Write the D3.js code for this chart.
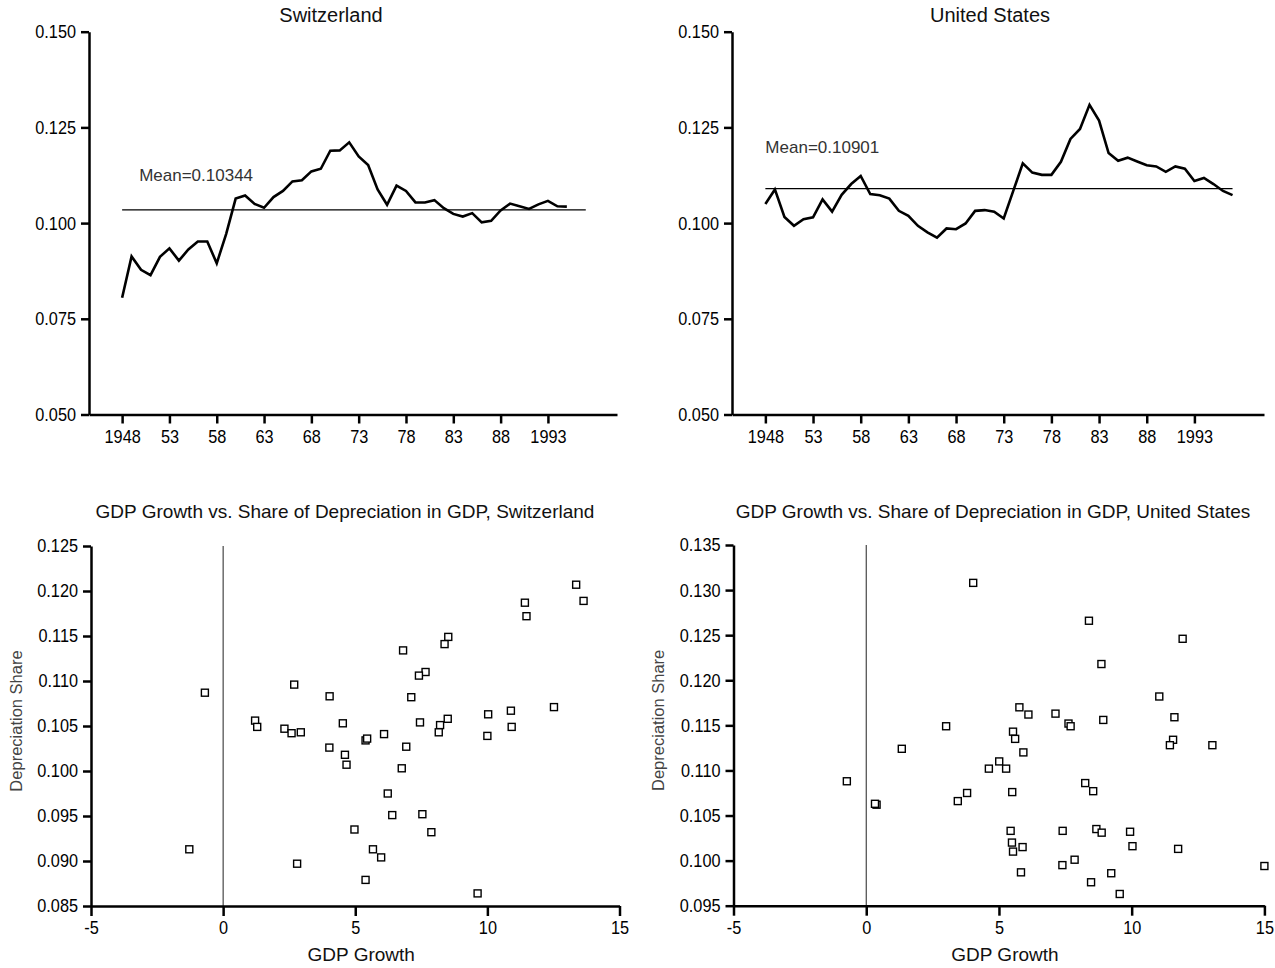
<!DOCTYPE html>
<html>
<head>
<meta charset="utf-8">
<script src="https://cdn.jsdelivr.net/npm/d3@7"></script>
<style>
  body { margin: 0; background: #fff; }
</style>
</head>
<body>
<div id="chart"></div>
<script>
// depreciation share of GDP, 1948-1995 (Switzerland) and 1948-1997 (United States)
var swissYears = d3.range(1948, 1996);
var swissShare = [0.0805, 0.0913, 0.0878, 0.0864, 0.0912, 0.0934, 0.0902, 0.0931, 0.0952, 0.0952,
  0.0895, 0.0972, 0.1064, 0.1072, 0.1050, 0.1040, 0.1068, 0.1084, 0.1109, 0.1112,
  0.1135, 0.1142, 0.1189, 0.1190, 0.1211, 0.1174, 0.1152, 0.1088, 0.1048, 0.1098,
  0.1084, 0.1054, 0.1054, 0.1060, 0.1039, 0.1024, 0.1017, 0.1026, 0.1002, 0.1006,
  0.1033, 0.1051, 0.1044, 0.1037, 0.1049, 0.1058, 0.1044, 0.1043];
var swissMean = 0.10344;

var usYears = d3.range(1948, 1998);
var usShare = [0.1050, 0.1088, 0.1016, 0.0993, 0.1010, 0.1015, 0.1062, 0.1030, 0.1074, 0.1102,
  0.1123, 0.1076, 0.1073, 0.1064, 0.1032, 0.1019, 0.0993, 0.0976, 0.0962, 0.0986,
  0.0984, 0.0999, 0.1032, 0.1034, 0.1030, 0.1012, 0.1084, 0.1156, 0.1132, 0.1126,
  0.1126, 0.1160, 0.1220, 0.1246, 0.1309, 0.1268, 0.1183, 0.1163, 0.1171, 0.1161,
  0.1151, 0.1148, 0.1134, 0.1148, 0.1142, 0.1110, 0.1118, 0.1102, 0.1084, 0.1073];
var usMean = 0.10901;

var yearTicks = [1948, 1953, 1958, 1963, 1968, 1973, 1978, 1983, 1988, 1993];
var shareTicksTop = [0.050, 0.075, 0.100, 0.125, 0.150];

// scatter: GDP growth vs depreciation share
var swissGrowth = [13.36, 13.64, 11.42, 11.48, 8.52, 8.38, 6.81, 7.66, 7.41, 2.69,
  -0.69, 4.03, 7.12, 12.52, 10.89, 10.03, 1.21, 1.29, 4.53, 7.45,
  8.21, 8.50, 10.92, 2.32, 2.59, 2.94, 8.16, 6.09, 10.00, 5.39,
  5.45, 4.02, 6.93, 4.61, 4.67, 6.76, 6.23, 6.40, 7.54, 4.97,
  7.88, -1.28, 5.67, 5.98, 2.80, 5.39, 9.63];
var swissDep = [0.1207, 0.1189, 0.1187, 0.1172, 0.1149, 0.1141, 0.1134, 0.1110, 0.1106, 0.1096,
  0.1087, 0.1083, 0.1082, 0.1071, 0.1067, 0.1063, 0.1056, 0.1049, 0.1053, 0.1054,
  0.1051, 0.1058, 0.1049, 0.1047, 0.1042, 0.1043, 0.1043, 0.1041, 0.1039, 0.1034,
  0.1036, 0.1026, 0.1027, 0.1018, 0.1007, 0.1003, 0.0975, 0.0951, 0.0952, 0.0935,
  0.0932, 0.0913, 0.0913, 0.0904, 0.0897, 0.0879, 0.0864];

var usGrowth = [4.03, 8.39, 11.92, 8.86, 11.04, 5.77, 6.11, 7.13, 11.61, 8.93,
  7.62, 7.70, 3.01, 5.53, 5.61, 11.56, 11.44, 13.04, 1.34, 5.92,
  5.01, 4.62, 5.27, -0.73, 8.25, 8.55, 5.50, 3.80, 3.45, 0.39,
  0.33, 5.44, 7.40, 8.67, 8.87, 9.94, 5.49, 5.89, 5.53, 10.03,
  11.75, 7.85, 7.39, 15.00, 5.83, 9.23, 8.47, 9.55];
var usDep = [0.1308, 0.1266, 0.1246, 0.1218, 0.1182, 0.1170, 0.1162, 0.1163, 0.1159, 0.1156,
  0.1152, 0.1149, 0.1149, 0.1143, 0.1135, 0.1134, 0.1128, 0.1128, 0.1124, 0.1120,
  0.1110, 0.1102, 0.1102, 0.1088, 0.1086, 0.1077, 0.1076, 0.1075, 0.1066, 0.1062,
  0.1063, 0.1033, 0.1033, 0.1035, 0.1031, 0.1032, 0.1020, 0.1015, 0.1010, 0.1016,
  0.1013, 0.1001, 0.0995, 0.0994, 0.0987, 0.0986, 0.0976, 0.0963];

var growthTicks = [-5, 0, 5, 10, 15];

var width = 1275, height = 968;
var font = '"Liberation Sans", Arial, sans-serif';

var svg = d3.select('#chart')
    .append('svg')
    .attr('width', width)
    .attr('height', height);

// no narrow face installed, so squeeze the tick glyphs a bit
function condense(sel, factor) {
    sel.each(function() {
        var w = this.getComputedTextLength();
        d3.select(this)
            .attr('textLength', w * factor)
            .attr('lengthAdjust', 'spacingAndGlyphs');
    });
}

function styleAxis(g) {
    g.attr('font-family', font).attr('font-size', 18.5);
    g.selectAll('.domain').attr('stroke', '#000').attr('stroke-width', 2.5);
    g.selectAll('.tick line').attr('stroke', '#000').attr('stroke-width', 2.5);
    g.selectAll('.tick text').attr('fill', '#000').call(condense, 0.88);
}

function heading(x, y, txt, size) {
    return svg.append('text')
        .attr('x', x)
        .attr('y', y)
        .attr('text-anchor', 'middle')
        .attr('font-family', font)
        .attr('font-size', size)
        .attr('fill', '#111')
        .text(txt);
}

// top row: line charts
var topPanels = [
    {title: 'Switzerland', years: swissYears, values: swissShare, mean: swissMean,
     left: 89, right: 617, titleX: 331, labelYear: 1949.8, labelValue: 0.1109},
    {title: 'United States', years: usYears, values: usShare, mean: usMean,
     left: 732, right: 1264, titleX: 990, labelYear: 1948, labelValue: 0.1183}
];

topPanels.forEach(function(p) {
    var x = d3.scaleLinear().domain([1944.5, 2000.3]).range([p.left, p.right]);
    var y = d3.scaleLinear().domain([0.05, 0.15]).range([414.5, 31.7]);

    heading(p.titleX, 22, p.title, 20);

    svg.append('g')
        .attr('transform', 'translate(0,' + y(0.05) + ')')
        .call(d3.axisBottom(x)
            .tickValues(yearTicks)
            .tickSize(9)
            .tickPadding(6)
            .tickSizeOuter(0)
            .tickFormat(function(d) {
                return (d == 1948 || d == 1993) ? String(d) : String(d).slice(2);
            }))
        .call(styleAxis);

    svg.append('g')
        .attr('transform', 'translate(' + p.left + ',0)')
        .call(d3.axisLeft(y)
            .tickValues(shareTicksTop)
            .tickSize(8)
            .tickPadding(5)
            .tickSizeOuter(0)
            .tickFormat(d3.format('.3f')))
        .call(styleAxis);

    // mean line
    svg.append('line')
        .attr('x1', x(1948))
        .attr('x2', x(1997))
        .attr('y1', y(p.mean))
        .attr('y2', y(p.mean))
        .attr('stroke', '#000')
        .attr('stroke-width', 1.2);

    svg.append('text')
        .attr('x', x(p.labelYear))
        .attr('y', y(p.labelValue))
        .attr('font-family', font)
        .attr('font-size', 17)
        .attr('fill', '#333')
        .text('Mean=' + p.mean.toFixed(5));

    var line = d3.line()
        .x(function(d, i) { return x(p.years[i]); })
        .y(function(d) { return y(d); });

    svg.append('path')
        .datum(p.values)
        .attr('d', line)
        .attr('fill', 'none')
        .attr('stroke', '#000')
        .attr('stroke-width', 2.6)
        .attr('stroke-linejoin', 'miter');
});

// bottom row: scatter plots
var bottomPanels = [
    {title: 'GDP Growth vs. Share of Depreciation in GDP, Switzerland',
     growth: swissGrowth, dep: swissDep, yDomain: [0.085, 0.125],
     left: 91, right: 619.5, top: 546, bottom: 906, titleX: 345, yLabelX: 22},
    {title: 'GDP Growth vs. Share of Depreciation in GDP, United States',
     growth: usGrowth, dep: usDep, yDomain: [0.095, 0.135],
     left: 733.5, right: 1264.4, top: 545, bottom: 905.7, titleX: 993, yLabelX: 664}
];

bottomPanels.forEach(function(p) {
    var x = d3.scaleLinear().domain([-5, 15]).range([p.left, p.right]);
    var y = d3.scaleLinear().domain(p.yDomain).range([p.bottom, p.top]);

    heading(p.titleX, 518, p.title, 19);

    // zero line
    svg.append('line')
        .attr('x1', x(0))
        .attr('x2', x(0))
        .attr('y1', p.top)
        .attr('y2', p.bottom)
        .attr('stroke', '#222')
        .attr('stroke-width', 1);

    svg.append('g')
        .attr('transform', 'translate(0,' + p.bottom + ')')
        .call(d3.axisBottom(x)
            .tickValues(growthTicks)
            .tickSize(10)
            .tickPadding(5)
            .tickSizeOuter(0)
            .tickFormat(function(d) { return String(d); }))
        .call(styleAxis);

    svg.append('g')
        .attr('transform', 'translate(' + p.left + ',0)')
        .call(d3.axisLeft(y)
            .ticks(8)
            .tickSize(8)
            .tickPadding(5)
            .tickSizeOuter(0)
            .tickFormat(d3.format('.3f')))
        .call(styleAxis);

    heading((p.left + p.right) / 2 + 6, 961, 'GDP Growth', 19);

    svg.append('text')
        .attr('transform', 'translate(' + p.yLabelX + ',' + ((p.top + p.bottom) / 2 - 5) + ') rotate(-90)')
        .attr('text-anchor', 'middle')
        .attr('font-family', font)
        .attr('font-size', 16.5)
        .attr('fill', '#444')
        .text('Depreciation Share');

    svg.selectAll('.sq')
        .data(p.growth.map(function(g, i) { return [g, p.dep[i]]; }))
        .enter()
        .append('rect')
        .attr('x', function(d) { return x(d[0]) - 3.5; })
        .attr('y', function(d) { return y(d[1]) - 3.5; })
        .attr('width', 7)
        .attr('height', 7)
        .attr('fill', '#fff')
        .attr('stroke', '#000')
        .attr('stroke-width', 1.4);
});
</script>
</body>
</html>
